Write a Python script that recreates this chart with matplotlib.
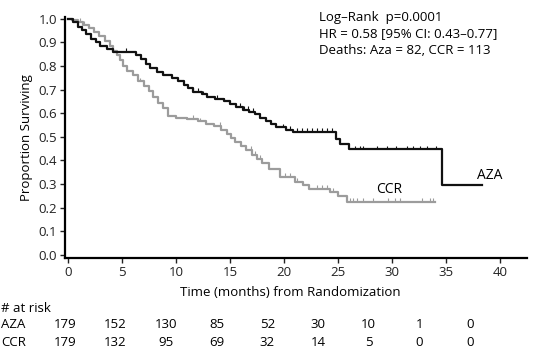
import numpy as np
import matplotlib
matplotlib.use("Agg")
import matplotlib.pyplot as plt

plt.rcParams['font.family'] = ['Open Sans', 'DejaVu Sans']

# Kaplan-Meier steps (month of drop, survival after drop)
aza_t = [0.5, 0.9, 1.3, 1.7, 2.1, 2.6, 3.0, 3.6, 4.2, 6.3, 6.8, 7.2, 7.6, 8.2, 8.8, 9.6,
         10.2, 10.7, 11.1, 11.6, 12.4, 12.9, 13.6, 14.4, 15.0, 15.6, 16.2, 16.8, 17.3,
         17.8, 18.3, 18.8, 19.3, 20.2, 20.8, 24.8, 25.2, 26.0, 34.6]
aza_s = [0.985, 0.965, 0.95, 0.935, 0.915, 0.90, 0.885, 0.87, 0.86, 0.845, 0.83, 0.81,
         0.79, 0.775, 0.76, 0.75, 0.735, 0.72, 0.705, 0.69, 0.68, 0.67, 0.66, 0.65, 0.64,
         0.628, 0.615, 0.605, 0.595, 0.58, 0.565, 0.553, 0.54, 0.53, 0.52, 0.49, 0.47,
         0.447, 0.295]
aza_end = 38.3
aza_cens = [5.4, 8.8, 11.6, 12.0, 12.5, 13.8, 14.4, 15.9, 16.3, 16.7, 17.1, 19.9, 20.6,
            21.2, 21.7, 22.1, 22.6, 23.1, 23.5, 24.0, 24.4, 26.6, 27.0, 27.3, 28.6, 29.5,
            30.4, 31.4, 31.9, 32.6, 33.2, 34.1]

ccr_t = [0.4, 0.9, 1.4, 1.9, 2.4, 2.9, 3.4, 3.9, 4.2, 4.5, 4.8, 5.1, 5.5, 6.0, 6.5, 7.0,
         7.5, 7.9, 8.3, 8.8, 9.3, 10.0, 11.0, 12.0, 12.8, 13.5, 14.2, 14.7, 15.1, 15.5,
         16.0, 16.5, 17.0, 17.5, 18.0, 18.6, 19.6, 21.0, 21.8, 22.3, 24.3, 25.0, 25.8]
ccr_s = [0.995, 0.985, 0.975, 0.96, 0.945, 0.925, 0.905, 0.885, 0.865, 0.845, 0.825, 0.80,
         0.78, 0.76, 0.735, 0.715, 0.695, 0.67, 0.645, 0.62, 0.59, 0.58, 0.575, 0.565,
         0.553, 0.545, 0.53, 0.51, 0.495, 0.48, 0.46, 0.445, 0.425, 0.405, 0.39, 0.365,
         0.33, 0.31, 0.295, 0.28, 0.266, 0.25, 0.226]
ccr_end = 34.0
ccr_cens = [1.1, 1.5, 6.7, 11.6, 12.2, 14.1, 14.7, 16.9, 17.3, 17.8, 20.1, 20.6, 21.2,
            23.1, 23.5, 24.0, 24.5, 26.1, 26.4, 26.8, 27.3, 28.2, 29.6, 30.3, 30.7, 32.8,
            33.5, 33.8]

risk_groups = ['AZA', 'CCR']
risk_aza = [179, 152, 130, 85, 52, 30, 10, 1, 0]
risk_ccr = [179, 132, 95, 69, 32, 14, 5, 0, 0]

W, H = 556, 356
fig = plt.figure(figsize=(W / 100, H / 100), dpi=100)
ax = fig.add_axes([65 / W, 1 - 258 / H, (527 - 65) / W, (258 - 17.5) / H])


def km_line(t, s, end):
    x = np.concatenate([[0.0], t, [end]])
    y = np.concatenate([[1.0], s, [s[-1]]])
    return x, y


def surv_at(t, s, when):
    t = np.asarray(t)
    s = np.concatenate([[1.0], s])
    return s[np.searchsorted(t, when, side='right')]


for t, s, end, cens, col in [(ccr_t, ccr_s, ccr_end, ccr_cens, '#9c9c9c'),
                             (aza_t, aza_s, aza_end, aza_cens, '#111111')]:
    x, y = km_line(t, s, end)
    ax.step(x, y, where='post', color=col, lw=1.6, clip_on=False)
    cy = surv_at(t, s, np.array(cens))
    ax.vlines(cens, cy, cy + 0.016, color=col, lw=0.8, clip_on=False)

ax.set_xlim(-0.28, 42.5)
ax.set_ylim(-0.013, 1.005)
ax.set_xticks(range(0, 45, 5))
ax.set_yticks(np.arange(0, 1.01, 0.1))
ax.set_yticklabels([f'{v:.1f}' for v in np.arange(0, 1.01, 0.1)])
for sp in ['top', 'right']:
    ax.spines[sp].set_visible(False)
for sp in ['left', 'bottom']:
    ax.spines[sp].set_linewidth(1.6)
ax.tick_params(length=3.5, width=1, labelsize=9.5, pad=2, colors='#222222')
ax.set_ylabel('Proportion Surviving', fontsize=9.5, labelpad=4)

ax.text(37.9, 0.305, 'AZA', fontsize=10, va='bottom', ha='left')
ax.text(28.5, 0.245, 'CCR', fontsize=10, va='bottom', ha='left')


def px(x, y):
    return x / W, 1 - y / H


fig.text(*px(319, 17), 'Log\u2013Rank  p=0.0001', fontsize=9.5, va='center')
fig.text(*px(319, 34), 'HR = 0.58 [95% CI: 0.43\u20130.77]', fontsize=9.5, va='center')
fig.text(*px(319, 51), 'Deaths: Aza = 82, CCR = 113', fontsize=9.5, va='center')

fig.text(*px(290, 292), 'Time (months) from Randomization', fontsize=9.5,
         ha='center', va='center')
fig.text(*px(1, 308), '# at risk', fontsize=9.5, va='center')
cols = 65 + 50.6 * np.arange(len(risk_aza))
for row, (name, vals) in enumerate(zip(risk_groups, [risk_aza, risk_ccr])):
    yy = 325 + 17 * row
    fig.text(*px(1, yy), name, fontsize=9.5, va='center')
    for cx, v in zip(cols, vals):
        fig.text(*px(cx, yy), str(v), fontsize=9.5, ha='center', va='center')

fig.savefig('out.png', dpi=100)
